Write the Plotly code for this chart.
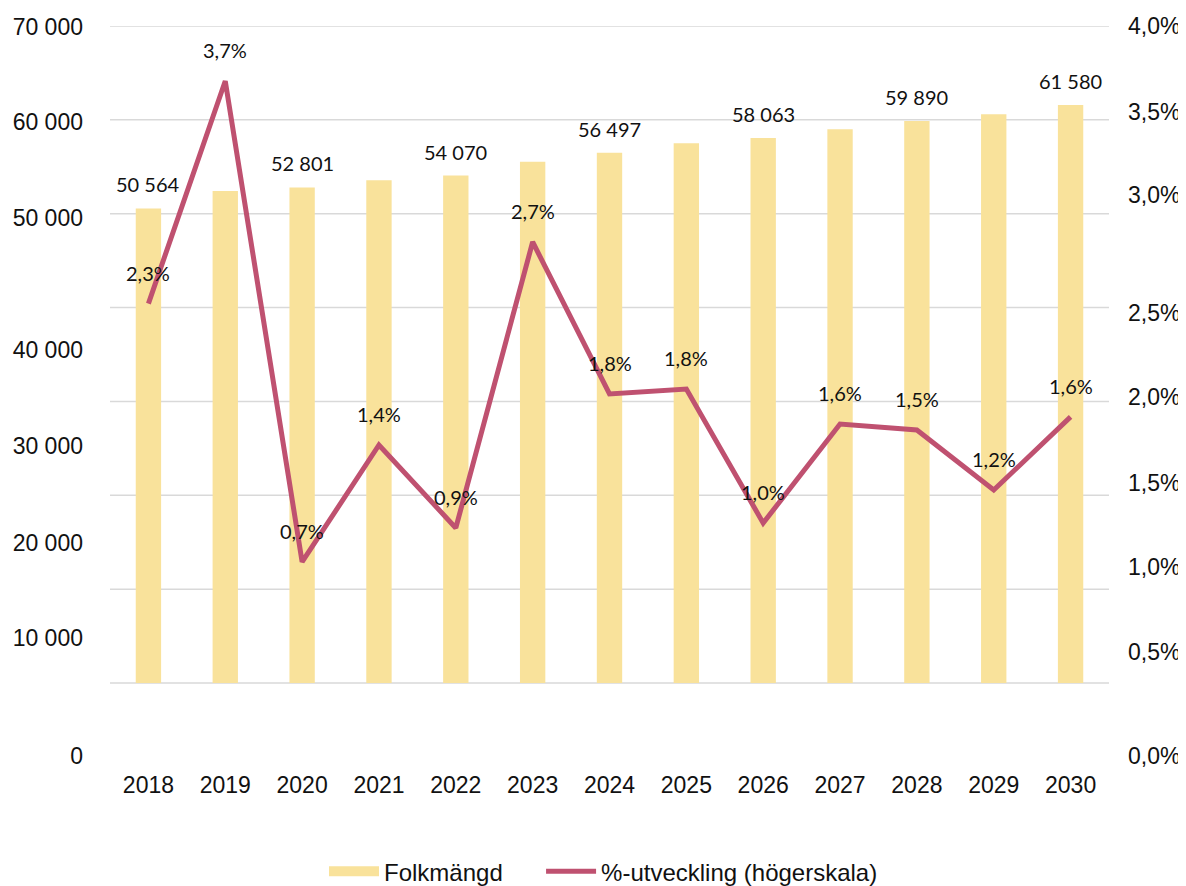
import plotly.graph_objects as go

years = ["2018", "2019", "2020", "2021", "2022", "2023", "2024",
         "2025", "2026", "2027", "2028", "2029", "2030"]
folkmangd = [50564, 52420, 52801, 53560, 54070, 55530, 56497,
             57510, 58063, 58990, 59890, 60610, 61580]
bar_label_years = ["2018", "2020", "2022", "2024", "2026", "2028", "2030"]
utveckling = [2.31, 3.665, 0.737, 1.449, 0.944, 2.685, 1.76,
              1.79, 0.974, 1.577, 1.54, 1.175, 1.62]

left_tick_text = ["70 000", "60 000", "50 000", "40 000", "30 000", "20 000", "10 000", "0"]
right_tick_text = ["4,0%", "3,5%", "3,0%", "2,5%", "2,0%", "1,5%", "1,0%", "0,5%", "0,0%"]

# --- layout geometry (pixels, in figure coordinates; page adds an 8px body margin) ---
W, H = 1178, 878
M_L, M_R, M_T, M_B = 102, 77, 18, 129
PLOT_TOP, PLOT_BOT = M_T, H - M_B          # 18 .. 749
BASE_PX = 675                               # where value 0 sits
LEFT_MAX, RIGHT_MAX = 70000, 4.0
left_scale = (BASE_PX - PLOT_TOP) / LEFT_MAX
right_scale = (BASE_PX - PLOT_TOP) / RIGHT_MAX
left_range = [-(PLOT_BOT - BASE_PX) / left_scale, LEFT_MAX]
right_range = [-(PLOT_BOT - BASE_PX) / right_scale, RIGHT_MAX]

# the reference's tick labels sit at these pixel rows (not on the gridlines)
left_label_px = [19, 114, 210, 342, 438, 535, 630, 748]
right_label_px = [18, 104, 187, 305, 389, 475, 559, 644, 748]
left_tickvals = [(BASE_PX - p) / left_scale for p in left_label_px]
right_tickvals = [(BASE_PX - p) / right_scale for p in right_label_px]

BAR_COLOR = "#F9E29B"
LINE_COLOR = "#BF5170"
TICK_FONT = dict(family="Liberation Sans, Arial, sans-serif", size=23, color="#111111")
LABEL_FONT = dict(family="Lato, Open Sans, sans-serif", size=20, color="#111111")
NBSP = "\u00a0"

fig = go.Figure()
fig.add_trace(go.Bar(
    x=years, y=folkmangd, name="Folkmängd",
    marker=dict(color=BAR_COLOR, line=dict(width=0)),
    width=0.33, yaxis="y", showlegend=False,
))
# legend key drawn as a wide flat swatch, like the reference
fig.add_trace(go.Scatter(
    x=[None], y=[None], name="Folkmängd" + NBSP * 5, mode="lines",
    line=dict(color=BAR_COLOR, width=11), yaxis="y", hoverinfo="skip",
))
fig.add_trace(go.Scatter(
    x=years, y=utveckling, name="%-utveckling (högerskala)",
    mode="lines", line=dict(color=LINE_COLOR, width=5),
    yaxis="y2",
))

for v in range(0, LEFT_MAX + 1, 10000):
    fig.add_shape(type="line", xref="paper", x0=0, x1=1, yref="y", y0=v, y1=v,
                  line=dict(color="#D9D9D9", width=1.5), layer="below")

# annotations on a category axis are addressed by category index
for i, (yr, val) in enumerate(zip(years, folkmangd)):
    if yr in bar_label_years:
        fig.add_annotation(x=i, y=val, xref="x", yref="y", text=f"{val:,}".replace(",", " "),
                           showarrow=False, yanchor="bottom", yshift=10, font=LABEL_FONT)

for i, val in enumerate(utveckling):
    fig.add_annotation(x=i, y=val, xref="x", yref="y2", text=f"{val:.1f}%".replace(".", ","),
                       showarrow=False, yanchor="middle", yshift=31, font=LABEL_FONT)

fig.update_layout(
    width=W, height=H,
    margin=dict(l=M_L, r=M_R, t=M_T, b=M_B, autoexpand=False),
    plot_bgcolor="white", paper_bgcolor="white",
    bargap=0.67,
    showlegend=True,
    legend=dict(orientation="h", x=0.494, xanchor="center", y=-0.157, yanchor="middle",
                font=dict(family="Liberation Sans, Arial, sans-serif", size=24, color="#111111"),
                itemwidth=50, traceorder="normal"),
    xaxis=dict(type="category", range=[-0.5, len(years) - 0.5], autorange=False,
               automargin=False, showgrid=False, showline=False, zeroline=False,
               tickfont=TICK_FONT, ticks="", ticklabelstandoff=12),
    yaxis=dict(range=left_range, tickvals=left_tickvals, ticktext=left_tick_text,
               automargin=False, showgrid=False, zeroline=False, showline=False, ticks="",
               tickfont=TICK_FONT, ticklabelstandoff=26),
    yaxis2=dict(range=right_range, tickvals=right_tickvals, ticktext=right_tick_text,
                automargin=False, overlaying="y", side="right", showgrid=False, zeroline=False,
                showline=False, ticks="", tickfont=TICK_FONT, ticklabelstandoff=18),
)

fig.write_html("out.html")
